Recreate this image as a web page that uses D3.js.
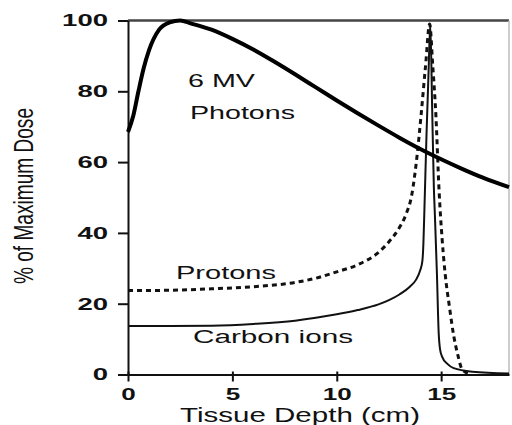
<!DOCTYPE html>
<html lang="en">
<head>
<meta charset="UTF-8">
<title>Depth dose curves</title>
<script src="https://d3js.org/d3.v7.min.js"></script>
<style>
  body { margin: 0; background: #fff; }
  svg { display: block; font-family: "Liberation Sans", Arial, sans-serif; }
  .axis path, .axis line { stroke: #111; stroke-width: 2px; }
  .axis text { fill: #111; font-size: 17px; font-weight: bold; }
</style>
</head>
<body>
<div id="chart"></div>
<script>
// tick values
const xTicks = [0, 5, 10, 15];
const yTicks = [0, 20, 40, 60, 80, 100];

// 6 MV photons
const photonDepth = [0, 0.25, 0.5, 0.75, 1, 1.5, 2, 2.5, 3, 4, 5, 6, 7, 8, 9, 10, 11, 12, 13, 14, 15, 16, 17, 18.25];
const photonDose  = [68.5, 73, 80, 86.5, 91.5, 97.5, 99.5, 100, 99.2, 97.4, 94.8, 91.8, 88.4, 84.8, 81.1, 77.4, 73.8, 70.3, 66.9, 63.7, 60.8, 58.1, 55.6, 52.9];

// protons
const protonDepth = [0, 2, 4, 6, 8, 9, 10, 11, 12, 12.5, 13, 13.3, 13.6, 13.85, 14.05, 14.25, 14.45, 14.6, 14.75, 14.9, 15.05, 15.2, 15.4, 15.6, 15.8, 16.0, 16.3];
const protonDose  = [23.7, 23.8, 24.2, 24.8, 26, 27.2, 29, 31, 34.5, 37.5, 41.5, 45, 51, 62, 74, 87, 99, 87, 73, 52, 38, 28, 19, 11, 5.5, 1.5, 0.3];

// carbon ions
const carbonDepth = [0, 2, 4, 6, 8, 9, 10, 11, 12, 12.5, 13, 13.5, 13.8, 14.0, 14.1, 14.15, 14.2, 14.3, 14.4, 14.48, 14.57, 14.65, 14.7, 14.8, 14.88, 14.95, 15.05, 15.3, 15.6, 16.5, 18.25];
const carbonDose  = [13.7, 13.7, 13.8, 14.3, 15.2, 16, 17, 18.2, 19.8, 21, 22.6, 24.8, 26.8, 29.5, 32, 37, 47, 68, 86, 99, 75, 53, 45, 28, 12, 7, 5, 3, 1.8, 0.8, 0.3];

const width = 512, height = 425;
const svg = d3.select("#chart").append("svg")
    .attr("width", width)
    .attr("height", height);

const x = d3.scaleLinear().domain([0, 18.25]).range([128, 509]);
const y = d3.scaleLinear().domain([0, 100]).range([374.5, 20.5]);

// frame top + right
svg.append("line")
    .attr("x1", x(0)).attr("x2", x(18.25))
    .attr("y1", y(100)).attr("y2", y(100))
    .attr("stroke", "#444").attr("stroke-width", 2.5);
svg.append("line")
    .attr("x1", x(18.25)).attr("x2", x(18.25))
    .attr("y1", y(100)).attr("y2", y(0))
    .attr("stroke", "#bbb").attr("stroke-width", 1.5);

const xAxis = svg.append("g")
    .attr("class", "axis")
    .attr("transform", `translate(0,${y(0)})`)
    .call(d3.axisBottom(x).tickValues(xTicks).tickSize(7).tickPadding(6.5).tickSizeOuter(0));
xAxis.selectAll(".tick line").attr("y1", -3);
xAxis.selectAll(".tick text")
    .attr("textLength", d => String(d).length * 14.5)
    .attr("lengthAdjust", "spacingAndGlyphs");

const yAxis = svg.append("g")
    .attr("class", "axis")
    .attr("transform", `translate(${x(0)},0)`)
    .call(d3.axisLeft(y).tickValues(yTicks).tickSize(10).tickPadding(10).tickSizeOuter(0));
yAxis.selectAll(".tick text")
    .attr("textLength", d => String(d).length * 15.3)
    .attr("lengthAdjust", "spacingAndGlyphs");

const line = d3.line()
    .x(d => x(d[0]))
    .y(d => y(d[1]))
    .curve(d3.curveMonotoneX);

svg.append("path")
    .datum(d3.zip(carbonDepth, carbonDose))
    .attr("d", line)
    .attr("fill", "none")
    .attr("stroke", "#111")
    .attr("stroke-width", 2);

svg.append("path")
    .datum(d3.zip(protonDepth, protonDose))
    .attr("d", line)
    .attr("fill", "none")
    .attr("stroke", "#111")
    .attr("stroke-width", 3)
    .attr("stroke-dasharray", "5,4");

svg.append("path")
    .datum(d3.zip(photonDepth, photonDose))
    .attr("d", line)
    .attr("fill", "none")
    .attr("stroke", "#000")
    .attr("stroke-width", 4)
    .attr("stroke-linejoin", "round");

// curve labels
const labels = [
    {text: "6 MV", x: 188, y: 87, w: 67},
    {text: "Photons", x: 190, y: 119, w: 105},
    {text: "Protons", x: 176, y: 279, w: 100},
    {text: "Carbon ions", x: 193, y: 343, w: 160}
];
svg.selectAll(".lbl")
    .data(labels)
    .enter().append("text")
    .attr("class", "lbl")
    .attr("x", d => d.x)
    .attr("y", d => d.y)
    .attr("textLength", d => d.w)
    .attr("lengthAdjust", "spacingAndGlyphs")
    .style("font-size", "18px")
    .style("fill", "#111")
    .text(d => d.text);

// axis titles
svg.append("text")
    .attr("x", 300)
    .attr("y", 422)
    .attr("text-anchor", "middle")
    .attr("textLength", 240)
    .attr("lengthAdjust", "spacingAndGlyphs")
    .style("font-size", "21px")
    .style("fill", "#111")
    .text("Tissue Depth (cm)");

svg.append("text")
    .attr("transform", "translate(33,196) rotate(-90)")
    .attr("text-anchor", "middle")
    .attr("textLength", 176)
    .attr("lengthAdjust", "spacingAndGlyphs")
    .style("font-size", "27px")
    .style("fill", "#111")
    .text("% of Maximum Dose");
</script>
</body>
</html>
